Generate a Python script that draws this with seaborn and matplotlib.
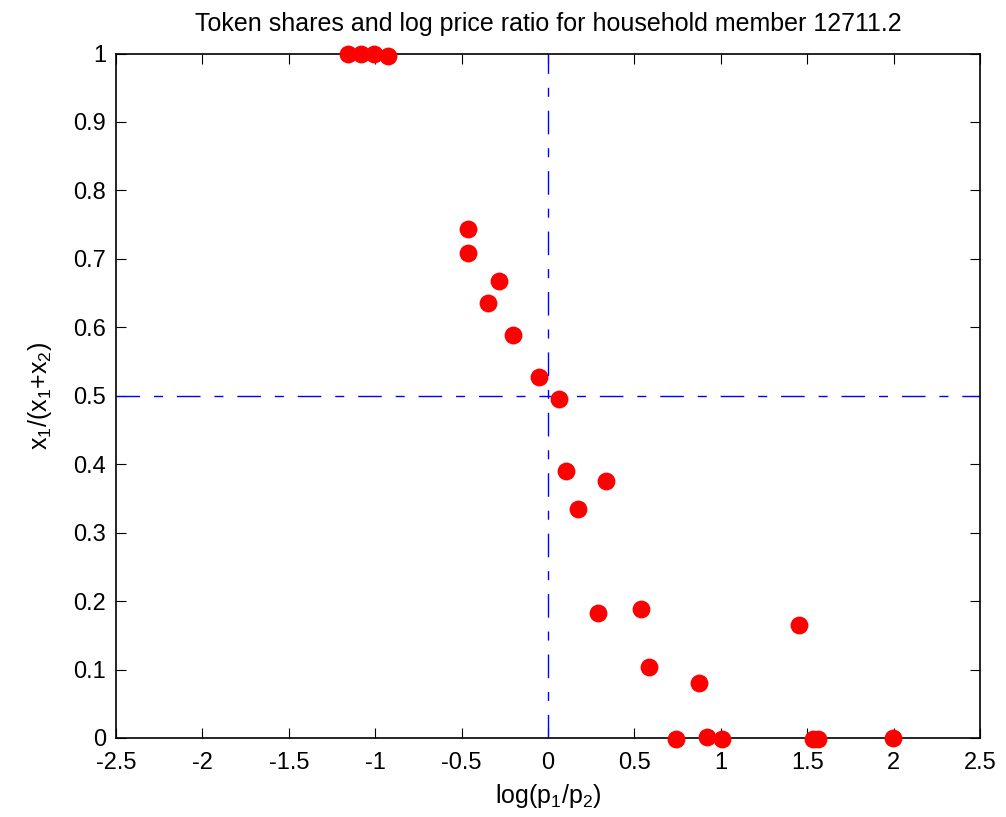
import matplotlib
matplotlib.use("Agg")
import matplotlib.pyplot as plt
import seaborn as sns
import pandas as pd

# Observed choices: log price ratio vs. token share of good 1
log_price_ratio = [-1.157, -1.082, -1.007, -0.926,
                   -0.465, -0.465, -0.282, -0.349, -0.201, -0.050, 0.065,
                   0.102, 0.334, 0.172,
                   0.288, 0.540, 1.454, 0.586, 0.876,
                   0.739, 0.918, 1.005, 1.535, 1.564, 1.998]
token_share = [1.000, 1.000, 1.000, 0.996,
               0.744, 0.708, 0.668, 0.636, 0.589, 0.527, 0.495,
               0.390, 0.375, 0.334,
               0.182, 0.188, 0.165, 0.103, 0.080,
               -0.002, 0.001, -0.002, -0.002, -0.002, 0.000]

x_ticks = [-2.5, -2, -1.5, -1, -0.5, 0, 0.5, 1, 1.5, 2, 2.5]
x_tick_labels = ["-2.5", "-2", "-1.5", "-1", "-0.5", "0", "0.5", "1", "1.5", "2", "2.5"]
y_ticks = [0, 0.1, 0.2, 0.3, 0.4, 0.5, 0.6, 0.7, 0.8, 0.9, 1]
y_tick_labels = ["0", "0.1", "0.2", "0.3", "0.4", "0.5", "0.6", "0.7", "0.8", "0.9", "1"]

title = "Token shares and log price ratio for household member 12711.2"

df = pd.DataFrame({"logratio": log_price_ratio, "share": token_share})

sns.set_style("ticks")
plt.rcParams["font.family"] = ["Liberation Sans", "DejaVu Sans"]
plt.rcParams["mathtext.default"] = "regular"
plt.rcParams["text.color"] = "black"
plt.rcParams["axes.labelcolor"] = "black"

fig = plt.figure(figsize=(10.06, 8.17), dpi=100)
ax = fig.add_axes([0.1153, 0.0967, 0.8588, 0.8378])

# reference lines at zero log price ratio and equal shares
dash = (17, 10, 6.5, 10)
ax.axvline(0, color="#0000ff", lw=1.0, dashes=dash, zorder=1)
ax.axhline(0.5, color="#0000ff", lw=1.0, dashes=dash, zorder=1)

sns.scatterplot(data=df, x="logratio", y="share", ax=ax, color="#ff0000",
                s=165, linewidth=0, marker="o", clip_on=False, zorder=3,
                legend=False)

ax.set_xlim(-2.5, 2.5)
ax.set_ylim(0, 1)
ax.set_xticks(x_ticks)
ax.set_xticklabels(x_tick_labels)
ax.set_yticks(y_ticks)
ax.set_yticklabels(y_tick_labels)

for s in ax.spines.values():
    s.set_visible(True)
    s.set_linewidth(1.2)
    s.set_color("black")
ax.tick_params(direction="in", length=7, width=0.8, top=True, right=True,
               labelsize=17, colors="black")
ax.tick_params(axis="y", pad=7)
ax.tick_params(axis="x", pad=10)

ax.set_xlabel("log(p$_1$/p$_2$)", fontsize=18, labelpad=6)
ax.set_ylabel("x$_1$/(x$_1$+x$_2$)", fontsize=18, labelpad=14)
ax.set_title(title, fontsize=18, pad=16, color="black")

fig.savefig("out.png", dpi=100)
